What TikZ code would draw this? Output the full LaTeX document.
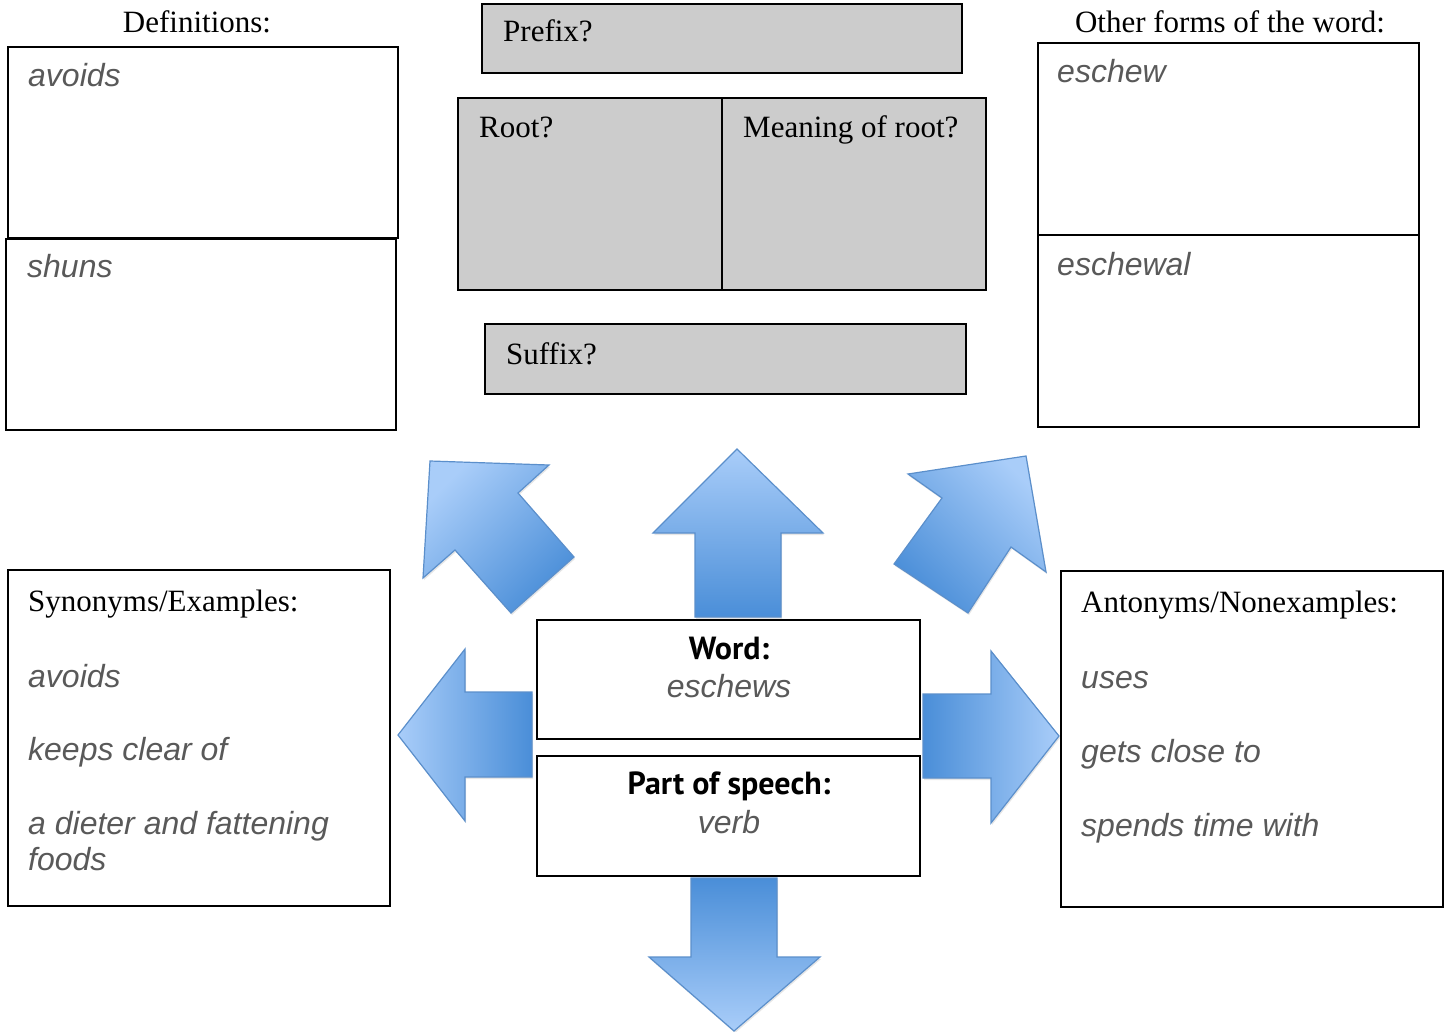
\documentclass[tikz,border=0pt]{standalone}
\usepackage{fontspec}
\setmainfont{Liberation Serif}
\newfontfamily\entryfont{Liberation Sans}
\newfontfamily\labelfont{PT Sans}
\usetikzlibrary{fit,shadows}
\definecolor{boxgray}{HTML}{CCCCCC}
\definecolor{entrygray}{HTML}{595959}
\definecolor{arrowlight}{HTML}{A9CDF9}
\definecolor{arrowdark}{HTML}{4A8ED8}
\definecolor{arrowedge}{HTML}{5B8FCB}
\tikzset{
box/.style={draw, line width=1.8pt, inner sep=0pt},
graybox/.style={box, fill=boxgray},
heading/.style={font=\fontsize{31}{37}\selectfont, anchor=base west, inner sep=0pt},
entry/.style={font=\entryfont\itshape\fontsize{32}{38}\selectfont,
	text=entrygray, anchor=base west, inner sep=0pt},
keyword/.style={font=\labelfont\bfseries\fontsize{32}{38}\selectfont, anchor=base, inner sep=0pt},
blockarrow/.style={draw=arrowedge, line width=1.2pt, line join=miter,
	drop shadow={opacity=0.2, shadow xshift=1pt, shadow yshift=-2pt}}
}

\begin{document}
\begin{tikzpicture}[x=1pt, y=-1pt]
	\useasboundingbox (0,0) rectangle (1447,1032);
	% definitions
	\node[heading, anchor=base] (deftitle) at (197,33) {Definitions:};
	\node[box, fit={(8,47) (398,238)}] (def1) {};
	\node[box, fit={(6,239) (396,430)}] (def2) {};
	\node[entry] (def1text) at (28,87) {avoids};
	\node[entry] (def2text) at (27,277) {shuns};
	% word parts
	\node[graybox, fit={(482,4) (962,73)}] (prefix) {};
	\node[graybox, fit={(458,98) (722,290)}] (root) {};
	\node[graybox, fit={(722,98) (986,290)}] (meaning) {};
	\node[graybox, fit={(485,324) (966,394)}] (suffix) {};
	\node[heading] (prefixtext) at (503,42) {Prefix?};
	\node[heading] (roottext) at (479,138) {Root?};
	\node[heading] (meaningtext) at (743,138) {Meaning of root?};
	\node[heading] (suffixtext) at (506,364) {Suffix?};
	% other forms
	\node[heading, anchor=base] (formtitle) at (1230,33) {Other forms of the word:};
	\node[box, fit={(1038,43) (1419,235)}] (form1) {};
	\node[box, fit={(1038,235) (1419,427)}] (form2) {};
	\node[entry] (form1text) at (1057,83) {eschew};
	\node[entry] (form2text) at (1057,275) {eschewal};
	% synonyms and antonyms
	\node[box, fit={(8,570) (390,906)}] (syn) {};
	\node[heading] (syntitle) at (28,611) {Synonyms/Examples:};
	\node[entry] (syn1) at (28,687) {avoids};
	\node[entry] (syn2) at (28,760) {keeps clear of};
	\node[entry] (syn3) at (28,834) {a dieter and fattening};
	\node[entry] (syn4) at (28,870) {foods};
	\node[box, fit={(1061,571) (1443,907)}] (ant) {};
	\node[heading] (anttitle) at (1081,612) {Antonyms/Nonexamples:};
	\node[entry] (ant1) at (1081,688) {uses};
	\node[entry] (ant2) at (1081,762) {gets close to};
	\node[entry] (ant3) at (1081,836) {spends time with};
	% the word
	\node[box, fit={(537,620) (920,739)}] (word) {};
	\node[box, fit={(537,756) (920,876)}] (pos) {};
	\node[keyword] (wordlabel) at (729,659) {Word:};
	\node[entry, anchor=base] (wordtext) at (729,697) {eschews};
	\node[keyword] (poslabel) at (729,794) {Part of speech:};
	\node[entry, anchor=base] (postext) at (729,833) {verb};
	% arrows
	\draw[blockarrow, top color=arrowlight, bottom color=arrowdark]
		(737,449) -- (823,533) -- (781,533) -- (781,617) -- (695,617) -- (695,533) -- (653,533) -- cycle;
	\draw[blockarrow, top color=arrowdark, bottom color=arrowlight]
		(691,878) -- (777,878) -- (777,957) -- (820,957) -- (734,1031) -- (649,957) -- (691,957) -- cycle;
	\draw[blockarrow, left color=arrowlight, right color=arrowdark]
		(398,735) -- (465,649) -- (465,692) -- (532,692) -- (532,777) -- (465,777) -- (465,821) -- cycle;
	\draw[blockarrow, left color=arrowdark, right color=arrowlight]
		(923,694) -- (991,694) -- (991,651) -- (1059,736) -- (991,823) -- (991,778) -- (923,778) -- cycle;
	\draw[blockarrow, top color=arrowlight, bottom color=arrowdark, shading angle=45]
		(430,461) -- (549,465) -- (518,493) -- (574,557) -- (511,613) -- (455,550) -- (423,578) -- cycle;
	\draw[blockarrow, top color=arrowlight, bottom color=arrowdark, shading angle=-45]
		(1026,456) -- (1046,572) -- (1011,547) -- (968,613) -- (894,564) -- (942,498) -- (908,474) -- cycle;
\end{tikzpicture}
\end{document}
